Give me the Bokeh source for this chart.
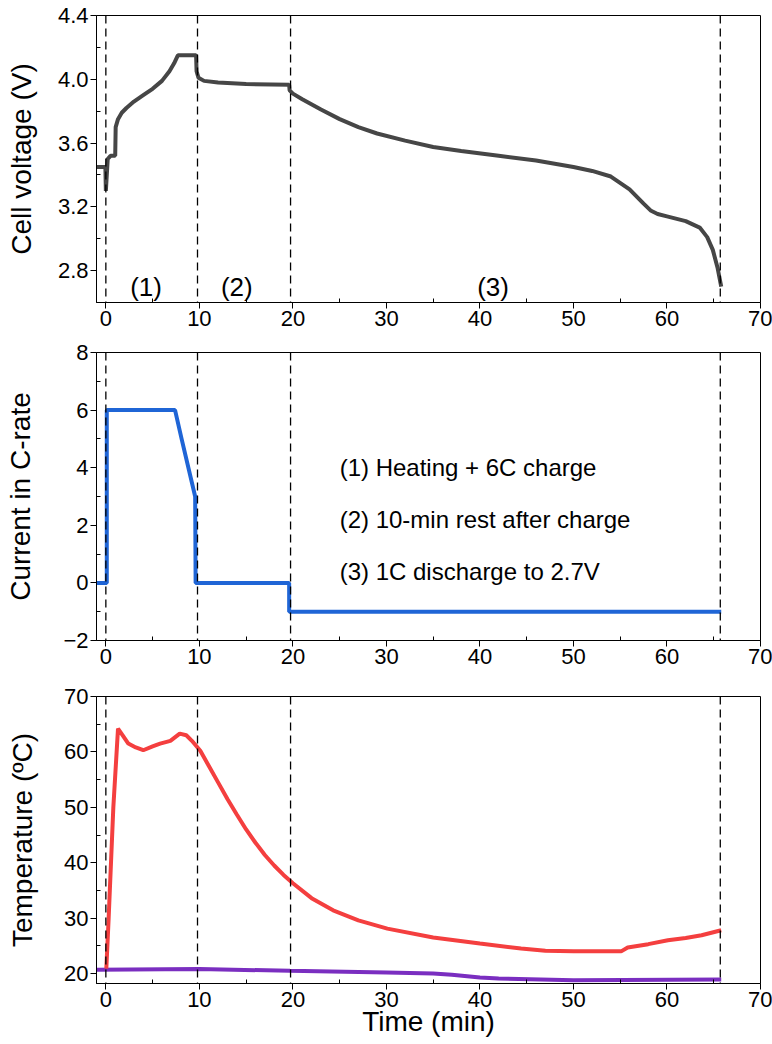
from bokeh.plotting import figure
from bokeh.models import Span, Label, FixedTicker, PrintfTickFormatter, Range1d
from bokeh.layouts import column
from bokeh.embed import file_html
from bokeh.resources import INLINE

FONT = "Liberation Sans"

# ---- data ----
time_v = [-1, -0.05, 0.0, 0.1, 0.2, 0.5, 1.0, 1.05, 1.3, 1.7, 2.2, 3.0, 4.0, 5.0, 6.0, 6.8,
          7.3, 7.7, 9.65, 9.7, 9.9, 10.5, 12, 15, 19.6, 19.65, 20, 21, 23, 25, 27, 29, 32,
          35, 38, 42, 46, 50, 52, 54, 56, 57.5, 58.3, 59, 60, 62, 63.5, 64.3, 64.9, 65.4, 65.8]
voltage = [3.45, 3.45, 3.30, 3.40, 3.50, 3.52, 3.52, 3.70, 3.75, 3.79, 3.82, 3.86, 3.90, 3.94,
           3.99, 4.05, 4.10, 4.15, 4.15, 4.05, 4.01, 3.99, 3.98, 3.97, 3.965, 3.93, 3.91,
           3.875, 3.81, 3.75, 3.70, 3.66, 3.615, 3.575, 3.55, 3.52, 3.49, 3.45, 3.425, 3.39,
           3.31, 3.22, 3.175, 3.155, 3.14, 3.11, 3.07, 3.01, 2.93, 2.82, 2.70]

time_c = [-1, 0.1, 0.1, 7.4, 8.1, 9.55, 9.6, 19.6, 19.6, 65.8]
current = [0, 0, 6, 6, 5, 3, 0, 0, -1, -1]

time_t = [0.05, 0.3, 0.8, 1.3, 1.8, 2.4, 3.2, 4.0, 5.0, 5.8, 6.9, 7.9, 8.6, 9.2, 10.1, 11,
          12, 13, 14, 15, 16, 17, 18, 19, 20, 22, 24.3, 27, 30.1, 35, 40, 44.4, 47, 50,
          55.1, 55.8, 58, 60.1, 62, 63.7, 65.8]
temp_cell = [20.9, 30, 50, 64.2, 63, 61.5, 60.8, 60.3, 61.0, 61.5, 62.0, 63.3, 63.0, 62.0, 60.2,
             57.5, 54.5, 51.5, 48.7, 46.0, 43.6, 41.4, 39.5, 37.8, 36.3, 33.6, 31.4, 29.6, 28.1,
             26.5, 25.4, 24.5, 24.1, 24.0, 24.0, 24.7, 25.3, 26.0, 26.4, 26.9, 27.8]

time_a = [-1, 10, 19.7, 30, 35, 37, 40, 42, 50, 65.8]
temp_amb = [20.7, 20.8, 20.5, 20.2, 20.0, 19.8, 19.3, 19.1, 18.8, 18.9]

phase_bounds = [0, 9.8, 19.75, 65.7]
phase_labels = ["(1)", "(2)", "(3)"]
phase_label_x = [4.3, 14.0, 41.4]
legend_lines = ["(1) Heating + 6C charge", "(2) 10-min rest after charge", "(3) 1C discharge to 2.7V"]
legend_y = [4.0, 2.2, 0.4]

x_ticks = [0, 10, 20, 30, 40, 50, 60, 70]
x_minor = [5, 15, 25, 35, 45, 55, 65]
v_ticks = [2.8, 3.2, 3.6, 4.0, 4.4]
v_minor = [3.0, 3.4, 3.8, 4.2]
c_ticks = [-2, 0, 2, 4, 6, 8]
c_minor = [-1, 1, 3, 5, 7]
t_ticks = [20, 30, 40, 50, 60, 70]
t_minor = [25, 35, 45, 55, 65]

W = 772


def make_fig(height, yr, yt, ym, ylabel, btop, bbot, ystand, fmt=None, xlabel=None):
    p = figure(width=W, height=height, x_range=Range1d(-1, 70), y_range=Range1d(*yr),
               output_backend="svg", toolbar_location=None,
               min_border_left=96, min_border_right=12, min_border_top=btop, min_border_bottom=bbot)
    p.grid.visible = False
    p.outline_line_color = "black"
    p.outline_line_width = 1
    p.background_fill_color = "white"
    p.border_fill_color = "white"
    p.xaxis.ticker = FixedTicker(ticks=x_ticks, minor_ticks=x_minor)
    p.yaxis.ticker = FixedTicker(ticks=yt, minor_ticks=ym)
    if fmt:
        p.yaxis.formatter = PrintfTickFormatter(format=fmt)
    for ax in (p.xaxis[0], p.yaxis[0]):
        ax.axis_line_color = "black"
        ax.axis_line_width = 1
        ax.major_tick_in = 0
        ax.major_tick_out = 6
        ax.minor_tick_in = 4
        ax.minor_tick_out = 0
        ax.major_tick_line_color = "black"
        ax.minor_tick_line_color = "black"
        ax.major_label_text_font = FONT
        ax.major_label_text_font_size = "22px"
        ax.major_label_text_color = "black"
        ax.major_label_standoff = 2
        ax.axis_label_text_font = FONT
        ax.axis_label_text_font_size = "28px"
        ax.axis_label_text_font_style = "normal"
        ax.axis_label_text_color = "black"
        ax.axis_label_standoff = -4
    p.yaxis.axis_label = ylabel
    p.yaxis.axis_label_standoff = ystand
    if xlabel:
        p.xaxis.axis_label = xlabel
    for b in phase_bounds:
        p.add_layout(Span(location=b, dimension="height", line_color="black",
                          line_width=1.3, line_dash="8 5"))
    return p


p1 = make_fig(340, (2.6, 4.4), v_ticks, v_minor, "Cell voltage (V)", 15, 38, 18, fmt="%.1f")
p1.line(time_v, voltage, line_color="#464646", line_width=4)
for lx, lt in zip(phase_label_x, phase_labels):
    p1.add_layout(Label(x=lx, y=2.70, text=lt, text_font=FONT, text_font_size="26px",
                        text_align="center", text_baseline="middle", text_color="black"))

p2 = make_fig(344, (-2, 8), c_ticks, c_minor, "Current in C-rate", 12, 44, 24)
p2.line(time_c, current, line_color="#1f65d6", line_width=4)
for ly, lt in zip(legend_y, legend_lines):
    p2.add_layout(Label(x=25.0, y=ly, text=lt, text_font=FONT, text_font_size="24px",
                        text_align="left", text_baseline="middle", text_color="black"))

p3 = make_fig(360, (18.2, 70), t_ticks, t_minor, "Temperature (\u00baC)", 12, 61, 23,
              xlabel="Time (min)")
p3.line(time_a, temp_amb, line_color="#7a2ec0", line_width=4)
p3.line(time_t, temp_cell, line_color="#f43f3f", line_width=4)

layout = column(p1, p2, p3, spacing=0)
open("out.html", "w").write(file_html(layout, INLINE))
